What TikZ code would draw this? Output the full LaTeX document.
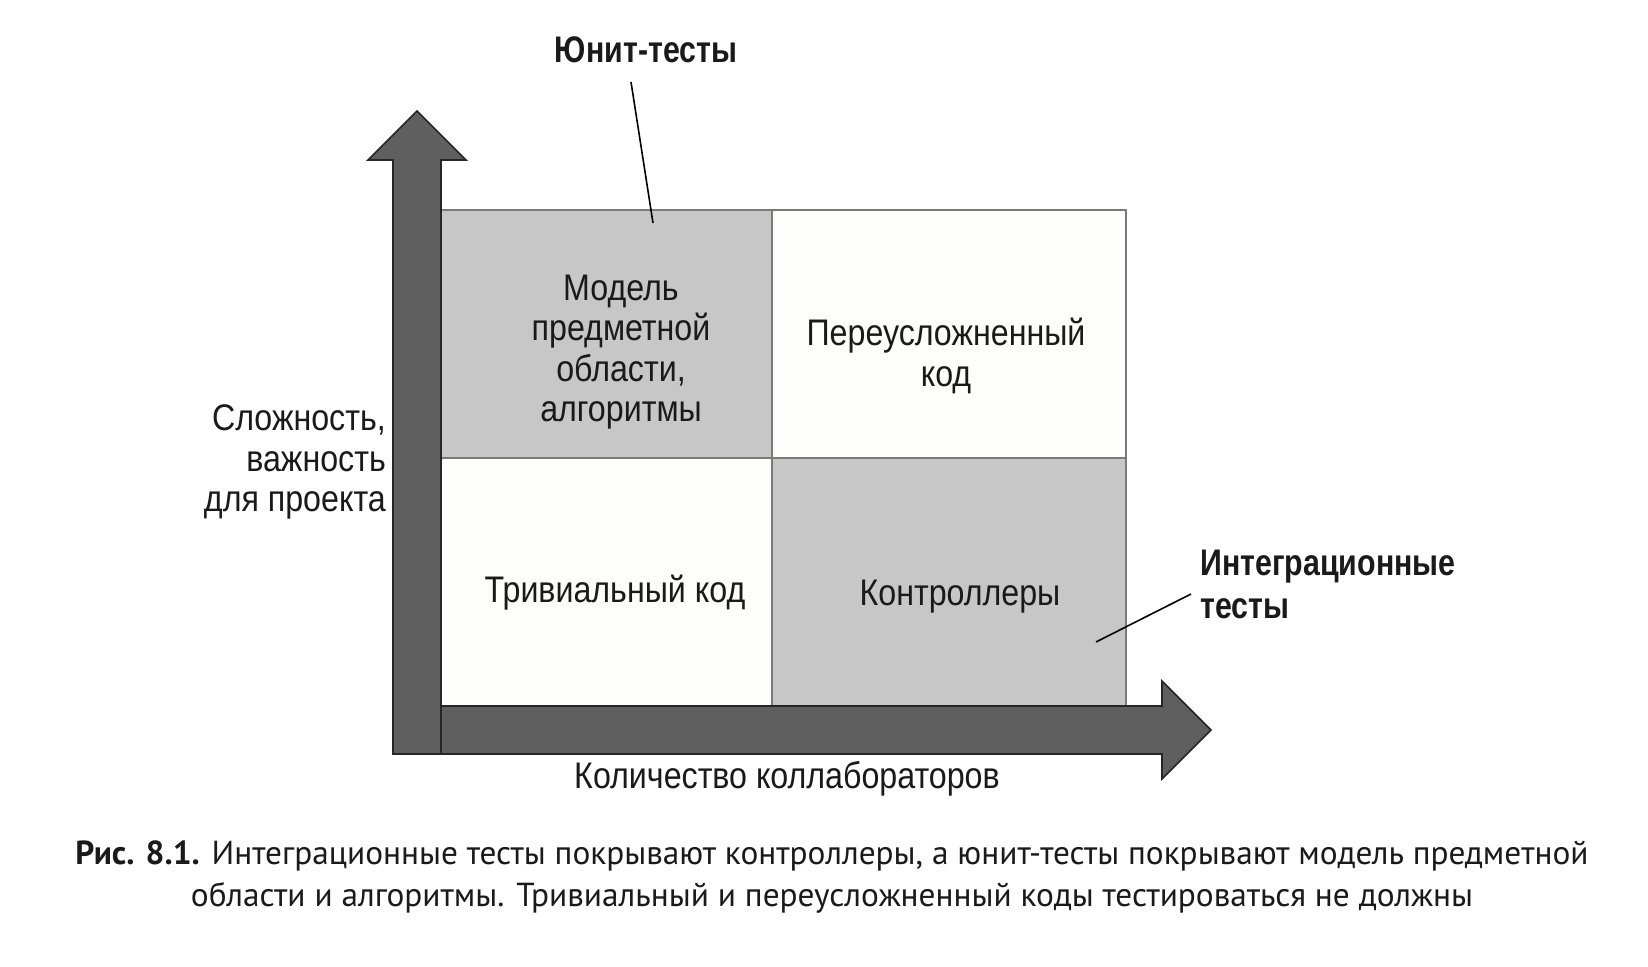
\documentclass[tikz,border=0pt]{standalone}
\usepackage{fontspec}
\setmainfont{Liberation Sans}
\newfontfamily\diagfont[FakeStretch=0.87]{Liberation Sans}
\newfontfamily\diagbold[FakeStretch=0.82]{Liberation Sans Bold}
\newfontfamily\capfont{PT Sans}
\newfontfamily\capbold{PT Sans Bold}
\definecolor{arrowfill}{HTML}{5F5F5F}
\definecolor{cellgray}{HTML}{C7C7C7}
\definecolor{cellwhite}{HTML}{FDFDFB}
\definecolor{gridline}{HTML}{7A7A7A}
\definecolor{txt}{HTML}{1A1A1A}
\begin{document}
\begin{tikzpicture}[x=1pt,y=-1pt,
  cell/.style={draw=gridline, line width=1.6pt, inner sep=0pt, outer sep=0pt},
  celltext/.style={font=\diagfont\fontsize{37}{40.5}\selectfont, text=txt, align=center, inner sep=0pt},
  boldlabel/.style={font=\diagbold\fontsize{37}{43}\selectfont, text=txt, inner sep=0pt},
  axisarrow/.style={fill=arrowfill, draw=black!85, line width=1.6pt, line join=miter},
  callout/.style={draw=black, line width=1.6pt}]
\useasboundingbox (0,0) rectangle (1648,966);
\fill[white] (0,0) rectangle (1648,966);
% cells
\path[cell, fill=cellgray]  (441,210) rectangle (772,458);
\path[cell, fill=cellwhite] (772,210) rectangle (1126,458);
\path[cell, fill=cellwhite] (441,458) rectangle (772,706);
\path[cell, fill=cellgray]  (772,458) rectangle (1126,706);
% axis arrows
\path[axisarrow] (441,706) -- (1162,706) -- (1162,681) -- (1211,730) -- (1162,779) -- (1162,754) -- (441,754) -- cycle;
\path[axisarrow] (393,754) -- (393,160) -- (368,160) -- (417,111) -- (466,160) -- (441,160) -- (441,754) -- cycle;
% cell texts
\node[celltext] (tl) at (621,352) {Модель\\предметной\\области,\\алгоритмы};
\node[celltext] (tr) at (946,356) {Переусложненный\\код};
\node[celltext] (bl) at (615,593) {Тривиальный код};
\node[celltext] (br) at (960,597) {Контроллеры};
% axis labels
\node[celltext, align=right, anchor=east] (ylab) at (386,462) {Сложность,\\важность\\для проекта};
\node[celltext] (xlab) at (787,779) {Количество коллабораторов};
% callouts
\node[boldlabel] (unit) at (646,50) {Юнит-тесты};
\node[boldlabel, align=left, anchor=west] (integ) at (1200,584) {Интеграционные\\тесты};
\coordinate (u1) at (631,82);
\coordinate (u2) at (653,223);
\coordinate (i1) at (1191,594);
\coordinate (i2) at (1096,642);
\draw[callout] (u1) -- (u2);
\draw[callout] (i1) -- (i2);
% caption
\node[font=\capfont\fontsize{33.3}{42}\selectfont, text=txt, align=center, inner sep=0pt] (cap) at (832,877)
  {{\capbold Рис. 8.1.} Интеграционные тесты покрывают контроллеры, а юнит-тесты покрывают модель предметной\\
   области и алгоритмы. Тривиальный и переусложненный коды тестироваться не должны};
\end{tikzpicture}
\end{document}
